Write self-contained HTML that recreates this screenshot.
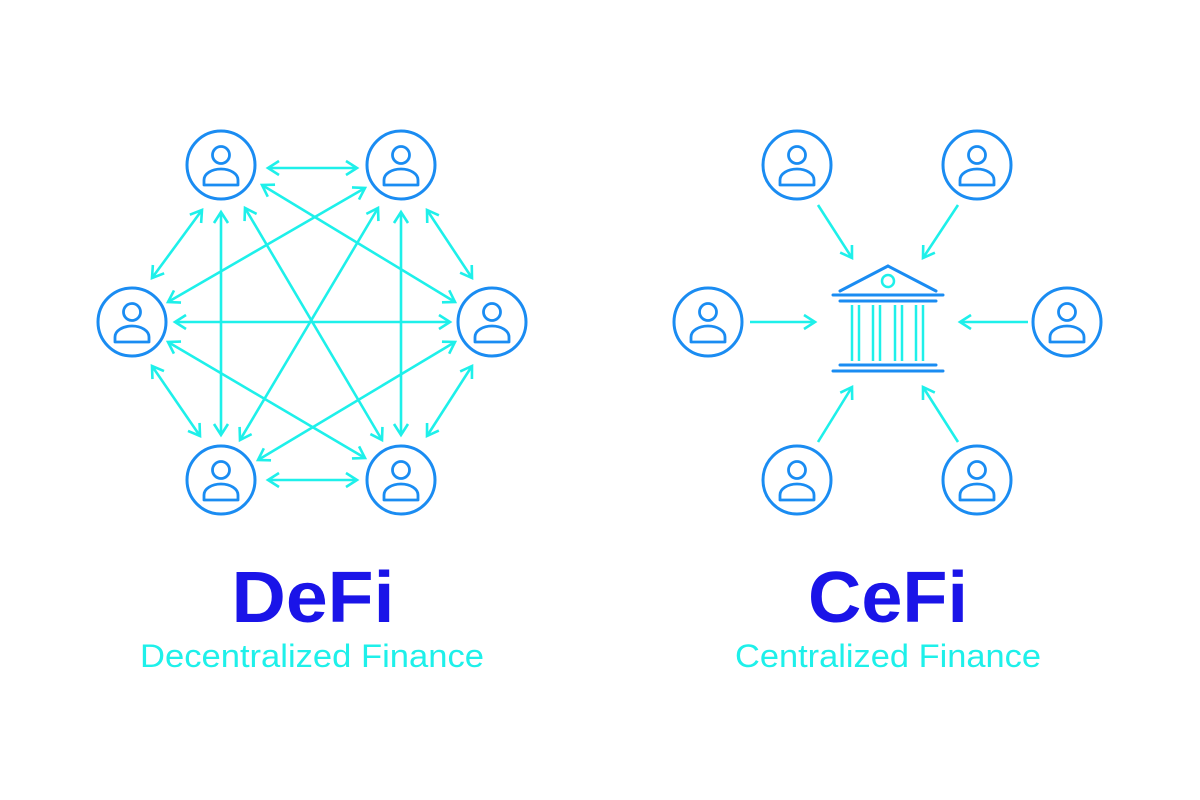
<!DOCTYPE html>
<html><head><meta charset="utf-8"><style>
html,body{margin:0;padding:0;background:#fff;width:1200px;height:800px;overflow:hidden}
</style></head><body>
<svg width="1200" height="800" viewBox="0 0 1200 800" xmlns="http://www.w3.org/2000/svg">
<defs>
<marker id="ah" markerUnits="userSpaceOnUse" markerWidth="20" markerHeight="20" refX="11" refY="0" viewBox="-2 -10 16 20" orient="auto-start-reverse">
<path d="M0,-7 L11,0 L0,7" fill="none" stroke="#1ef0ea" stroke-width="2.6"/>
</marker>
<g id="user">
<circle cx="0" cy="0" r="34" fill="none" stroke="#1a8cf2" stroke-width="3"/>
<circle cx="0" cy="-10" r="8.5" fill="none" stroke="#1a8cf2" stroke-width="2.8"/>
<path d="M-17,20 L-17,15 A17,11 0 0 1 17,15 L17,20 Z" fill="none" stroke="#1a8cf2" stroke-width="2.8" stroke-linejoin="round"/>
</g>
</defs>
<g stroke="#1ef0ea" stroke-width="2.6" fill="none" marker-start="url(#ah)" marker-end="url(#ah)">
<line x1="268" y1="168" x2="357" y2="168"/>
<line x1="268" y1="480" x2="357" y2="480"/>
<line x1="175" y1="322" x2="450" y2="322"/>
<line x1="221" y1="212" x2="221" y2="435"/>
<line x1="401" y1="212" x2="401" y2="435"/>
<line x1="202" y1="210" x2="152" y2="278"/>
<line x1="427" y1="210" x2="472" y2="278"/>
<line x1="152" y1="366" x2="200" y2="436"/>
<line x1="472" y1="366" x2="427" y2="436"/>
<line x1="245" y1="208" x2="382" y2="440"/>
<line x1="378" y1="208" x2="240" y2="440"/>
<line x1="262" y1="185" x2="455" y2="302"/>
<line x1="168" y1="302" x2="365" y2="188"/>
<line x1="168" y1="342" x2="365" y2="458"/>
<line x1="258" y1="460" x2="455" y2="342"/>
</g>
<g stroke="#1ef0ea" stroke-width="2.6" fill="none" marker-end="url(#ah)">
<line x1="818" y1="205" x2="852" y2="258"/>
<line x1="958" y1="205" x2="923" y2="258"/>
<line x1="750" y1="322" x2="815" y2="322"/>
<line x1="1028" y1="322" x2="960" y2="322"/>
<line x1="818" y1="442" x2="852" y2="387"/>
<line x1="958" y1="442" x2="923" y2="387"/>
</g>
<use href="#user" x="221" y="165"/>
<use href="#user" x="401" y="165"/>
<use href="#user" x="132" y="322"/>
<use href="#user" x="492" y="322"/>
<use href="#user" x="221" y="480"/>
<use href="#user" x="401" y="480"/>
<use href="#user" x="797" y="165"/>
<use href="#user" x="977" y="165"/>
<use href="#user" x="708" y="322"/>
<use href="#user" x="1067" y="322"/>
<use href="#user" x="797" y="480"/>
<use href="#user" x="977" y="480"/>
<g stroke="#1a8cf2" stroke-width="3" fill="none" stroke-linecap="round">
<path d="M840,291 L888,266 L936,291"/>
<circle cx="888" cy="281" r="6" stroke="#1ef0ea" stroke-width="2.5"/>
<line x1="833" y1="295" x2="943" y2="295"/>
<line x1="840" y1="301" x2="936" y2="301"/>
<line x1="840" y1="365" x2="936" y2="365"/>
<line x1="833" y1="371" x2="943" y2="371"/>
</g>
<g stroke="#1ef0ea" stroke-width="2.5">
<line x1="852" y1="305" x2="852" y2="361"/>
<line x1="859" y1="305" x2="859" y2="361"/>
<line x1="873" y1="305" x2="873" y2="361"/>
<line x1="880" y1="305" x2="880" y2="361"/>
<line x1="895" y1="305" x2="895" y2="361"/>
<line x1="902" y1="305" x2="902" y2="361"/>
<line x1="916" y1="305" x2="916" y2="361"/>
<line x1="923" y1="305" x2="923" y2="361"/>
</g>
<g font-family="Liberation Sans, sans-serif" text-anchor="middle">
<text x="313" y="622" font-size="72" font-weight="bold" fill="#1a14e8" textLength="163" lengthAdjust="spacingAndGlyphs">DeFi</text>
<text x="888" y="622" font-size="72" font-weight="bold" fill="#1a14e8" textLength="160" lengthAdjust="spacingAndGlyphs">CeFi</text>
<text x="312" y="667" font-size="32" fill="#1ef0ea" textLength="344" lengthAdjust="spacingAndGlyphs">Decentralized Finance</text>
<text x="888" y="667" font-size="32" fill="#1ef0ea" textLength="306" lengthAdjust="spacingAndGlyphs">Centralized Finance</text>
</g>
</svg>
</body></html>
